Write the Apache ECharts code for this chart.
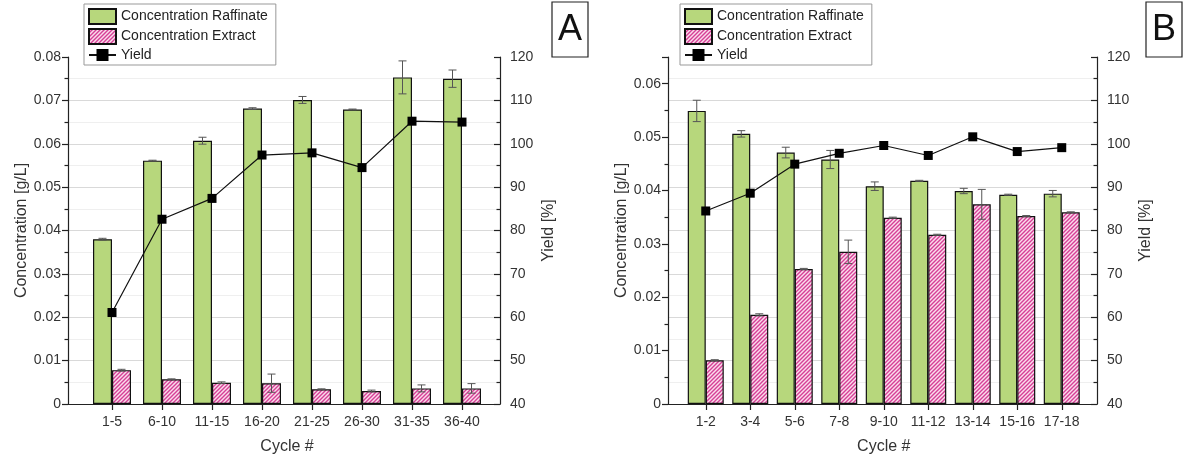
<!DOCTYPE html>
<html>
<head>
<meta charset="utf-8">
<script src="https://cdn.jsdelivr.net/npm/echarts@6/dist/echarts.min.js"></script>
<style>
  html, body { margin: 0; padding: 0; background: #fff; }
  #chart { width: 1184px; height: 465px; }
</style>
</head>
<body>
<div id="chart"></div>
<script>
// panel A
const cyclesA = ['1-5', '6-10', '11-15', '16-20', '21-25', '26-30', '31-35', '36-40'];
const raffinateA = [0.0380, 0.0561, 0.0607, 0.0681, 0.0701, 0.0679, 0.0753, 0.0750];
const raffinateErrA = [0.0002, 0.0001, 0.0008, 0.0002, 0.0008, 0.0001, 0.0038, 0.0020];
const extractA = [0.0078, 0.0057, 0.0049, 0.0048, 0.0034, 0.0030, 0.0036, 0.0036];
const extractErrA = [0.0002, 0.0001, 0.0002, 0.0021, 0.0001, 0.0002, 0.0008, 0.0011];
const yieldA = [61.1, 82.6, 87.4, 97.4, 97.9, 94.5, 105.2, 105.0];

// panel B
const cyclesB = ['1-2', '3-4', '5-6', '7-8', '9-10', '11-12', '13-14', '15-16', '17-18'];
const raffinateB = [0.0549, 0.0506, 0.0471, 0.0458, 0.0408, 0.0418, 0.0399, 0.0392, 0.0394];
const raffinateErrB = [0.0020, 0.0006, 0.0010, 0.0017, 0.0008, 0.0001, 0.0005, 0.0001, 0.0006];
const extractB = [0.0082, 0.0167, 0.0253, 0.0285, 0.0349, 0.0317, 0.0374, 0.0352, 0.0359];
const extractErrB = [0.0001, 0.0002, 0.0001, 0.0022, 0.0001, 0.0001, 0.0028, 0.0001, 0.0001];
const yieldB = [84.5, 88.6, 95.3, 97.8, 99.6, 97.3, 101.6, 98.2, 99.1];

const FONT = '"Liberation Sans", Arial, sans-serif';
const GREEN = '#b7d77c';

// pink hatch pattern
function hatch() {
  const c = document.createElement('canvas');
  c.width = 4; c.height = 4;
  const g = c.getContext('2d');
  g.fillStyle = '#fbdcec';
  g.fillRect(0, 0, 4, 4);
  g.strokeStyle = '#d63f96';
  g.lineWidth = 1.4;
  g.beginPath();
  g.moveTo(-1, 5); g.lineTo(5, -1);
  g.moveTo(-1, 1); g.lineTo(1, -1);
  g.moveTo(3, 5); g.lineTo(5, 3);
  g.stroke();
  return c;
}
const PINK = { image: hatch(), repeat: 'repeat' };

function errData(vals, errs) {
  return vals.map((v, i) => [i, v, errs[i]]);
}

function errSeries(xi, yi, data, shift) {
  return {
    type: 'custom',
    xAxisIndex: xi,
    yAxisIndex: yi,
    z: 5,
    silent: true,
    encode: { x: 0, y: 1 },
    data: data,
    renderItem: function (params, api) {
      const i = api.value(0), v = api.value(1), e = api.value(2);
      const hi = api.coord([i, v + e]);
      const lo = api.coord([i, v - e]);
      const x = hi[0] + shift;
      const st = { stroke: '#555', lineWidth: 1 };
      return {
        type: 'group',
        children: [
          { type: 'line', shape: { x1: x, y1: hi[1], x2: x, y2: lo[1] }, style: st },
          { type: 'line', shape: { x1: x - 4, y1: hi[1], x2: x + 4, y2: hi[1] }, style: st },
          { type: 'line', shape: { x1: x - 4, y1: lo[1], x2: x + 4, y2: lo[1] }, style: st }
        ]
      };
    }
  };
}

const labelStyle = { color: '#333', fontSize: 14, fontFamily: FONT };
const nameStyle = { color: '#333', fontSize: 16, fontFamily: FONT };
const axisLine = { show: true, lineStyle: { color: '#222', width: 1.2 } };

function frameX(gi) {
  return {
    gridIndex: gi, type: 'value', min: 0, max: 1,
    axisLine: axisLine, axisTick: { show: false }, axisLabel: { show: false },
    splitLine: { show: false }
  };
}
function dataX(gi, cats) {
  return {
    gridIndex: gi, type: 'category', data: cats,
    axisLine: { show: false },
    axisTick: { show: true, alignWithLabel: true, length: 6, lineStyle: { color: '#222', width: 1.2 } },
    axisLabel: Object.assign({ margin: 11, interval: 0 }, labelStyle),
    name: 'Cycle #', nameLocation: 'middle', nameGap: 35, nameTextStyle: nameStyle
  };
}
function frameLeft(gi, max) {
  return {
    gridIndex: gi, type: 'value', position: 'left', min: 0, max: max, interval: 0.01,
    axisLine: axisLine,
    axisTick: { show: true, length: 6, lineStyle: { color: '#222', width: 1.2 } },
    minorTick: { show: true, splitNumber: 2, length: 3.5, lineStyle: { color: '#222', width: 1.2 } },
    axisLabel: Object.assign({ margin: 7, showMaxLabel: max === 0.08 }, labelStyle),
    splitLine: { show: false },
    name: 'Concentration [g/L]', nameLocation: 'middle', nameRotate: 90, nameGap: 38,
    nameTextStyle: nameStyle
  };
}
function frameRight(gi) {
  return {
    gridIndex: gi, type: 'value', position: 'right', min: 40, max: 120, interval: 10,
    axisLine: axisLine,
    axisTick: { show: true, inside: true, length: 6, lineStyle: { color: '#222', width: 1.2 } },
    minorTick: { show: true, splitNumber: 2, length: 3.5, lineStyle: { color: '#222', width: 1.2 } },
    axisLabel: Object.assign({ margin: 10 }, labelStyle),
    splitLine: { show: true, showMinLine: false, showMaxLine: false, lineStyle: { color: '#d9d9d9', width: 1 } },
    minorSplitLine: { show: true, lineStyle: { color: '#efefef', width: 1 } },
    name: 'Yield [%]', nameLocation: 'middle', nameRotate: 90, nameGap: 41,
    nameTextStyle: nameStyle
  };
}
function hiddenY(gi, min, max, pos) {
  return { gridIndex: gi, type: 'value', position: pos, min: min, max: max, show: false, splitLine: { show: false } };
}

function panelSeries(xi, yl, yr, raf, rafErr, ext, extErr, yld, bw) {
  return [
    {
      name: 'Concentration Raffinate', type: 'bar', xAxisIndex: xi, yAxisIndex: yl,
      data: raf, barWidth: bw, barGap: '0%',
      itemStyle: { color: GREEN, borderColor: '#111', borderWidth: 1.2 }
    },
    {
      name: 'Concentration Extract', type: 'bar', xAxisIndex: xi, yAxisIndex: yl,
      data: ext, barWidth: bw, barGap: '0%',
      itemStyle: { color: PINK, borderColor: '#111', borderWidth: 1.2 }
    },
    errSeries(xi, yl, errData(raf, rafErr), -bw / 2),
    errSeries(xi, yl, errData(ext, extErr), bw / 2),
    {
      name: 'Yield', type: 'line', xAxisIndex: xi, yAxisIndex: yr, z: 10,
      data: yld, symbol: 'rect', symbolSize: 9,
      lineStyle: { color: '#111', width: 1.2 },
      itemStyle: { color: '#000' }
    }
  ];
}

function legendAt(left) {
  return {
    left: left, top: 4, orient: 'vertical',
    data: [
      { name: 'Concentration Raffinate', icon: 'rect' },
      { name: 'Concentration Extract', icon: 'rect' },
      { name: 'Yield' }
    ],
    itemWidth: 27, itemHeight: 15, itemGap: 3,
    padding: [4, 8, 3, 4],
    borderColor: '#999', borderWidth: 1, borderRadius: 0,
    backgroundColor: '#fff',
    selectedMode: false,
    textStyle: { color: '#222', fontSize: 14, fontFamily: FONT }
  };
}

function letterBox(x, w, txt) {
  return {
    type: 'group',
    children: [
      { type: 'rect', shape: { x: x, y: 2, width: w, height: 55 }, style: { fill: '#fff', stroke: '#222', lineWidth: 1.2 } },
      { type: 'text', x: x + w / 2, y: 30, style: { text: txt, fill: '#111', font: '36px ' + FONT, align: 'center', verticalAlign: 'middle' } }
    ]
  };
}

const chart = echarts.init(document.getElementById('chart'), null, { renderer: 'canvas' });

const option = {
  backgroundColor: '#fff',
  animation: false,
  grid: [
    { left: 68, right: 684, top: 57, bottom: 61 },
    { left: 87, right: 697, top: 57, bottom: 61 },
    { left: 668, right: 87, top: 57, bottom: 61 },
    { left: 683.5, right: 100, top: 57, bottom: 61 }
  ],
  xAxis: [frameX(0), dataX(1, cyclesA), frameX(2), dataX(3, cyclesB)],
  yAxis: [
    frameLeft(0, 0.08), frameRight(0),
    hiddenY(1, 0, 0.08, 'left'), hiddenY(1, 40, 120, 'right'),
    frameLeft(2, 0.065), frameRight(2),
    hiddenY(3, 0, 0.065, 'left'), hiddenY(3, 40, 120, 'right')
  ],
  legend: [legendAt(84), legendAt(680)],
  graphic: [letterBox(552, 36, 'A'), letterBox(1146, 36, 'B')],
  series: [].concat(
    panelSeries(1, 2, 3, raffinateA, raffinateErrA, extractA, extractErrA, yieldA, 19),
    panelSeries(3, 6, 7, raffinateB, raffinateErrB, extractB, extractErrB, yieldB, 18)
  )
};

chart.setOption(option);
</script>
</body>
</html>
